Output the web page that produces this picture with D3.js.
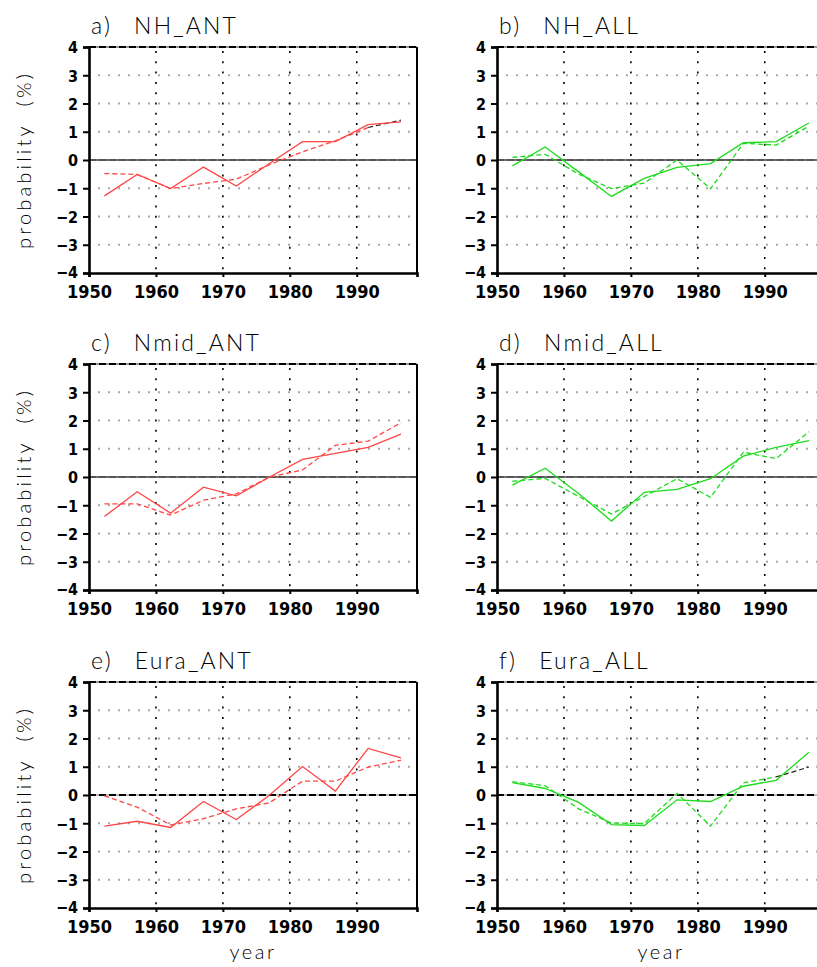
<!DOCTYPE html>
<html>
<head>
<meta charset="utf-8">
<script src="https://cdn.jsdelivr.net/npm/d3@7"></script>
<style>
  html, body { margin: 0; padding: 0; background: #fff; }
  svg { display: block; }
  .title, .axlabel { font-family: Lato, "Open Sans", "DejaVu Sans", sans-serif; font-weight: 300; fill: #000; }
  .tick-label { font-family: "DejaVu Sans Condensed", "Liberation Sans Narrow", "Liberation Sans", sans-serif; font-weight: bold; fill: #000; }
</style>
</head>
<body>
<svg id="chart" width="817" height="967"></svg>
<script>
// Five-year mean points (x = period centre)
const years = [1952.3, 1957.2, 1962.2, 1967.1, 1972.0, 1976.9, 1981.9, 1986.8, 1991.7, 1996.6];

// Probability anomalies (%) — solid and dashed series per region/forcing
const nhAntSolid    = [-1.27, -0.51, -1.01, -0.25, -0.92, -0.13, 0.65, 0.65, 1.25, 1.35];
const nhAntDashed   = [-0.48, -0.51, -1.01, -0.83, -0.68, -0.17, 0.29, 0.68, 1.15, 1.41];
const nhAllSolid    = [-0.21, 0.46, -0.42, -1.29, -0.65, -0.26, -0.13, 0.61, 0.65, 1.31];
const nhAllDashed   = [0.09, 0.20, -0.50, -1.01, -0.82, 0.00, -1.02, 0.59, 0.53, 1.20];
const nmidAntSolid  = [-1.40, -0.52, -1.28, -0.36, -0.67, -0.01, 0.62, 0.84, 1.05, 1.52];
const nmidAntDashed = [-0.95, -0.95, -1.35, -0.82, -0.60, -0.01, 0.25, 1.12, 1.27, 1.92];
const nmidAllSolid  = [-0.29, 0.31, -0.58, -1.56, -0.54, -0.44, -0.06, 0.74, 1.05, 1.29];
const nmidAllDashed = [-0.15, -0.05, -0.69, -1.31, -0.69, -0.06, -0.72, 0.88, 0.65, 1.60];
const euraAntSolid  = [-1.10, -0.93, -1.15, -0.23, -0.87, -0.02, 1.01, 0.14, 1.65, 1.31];
const euraAntDashed = [-0.03, -0.43, -1.06, -0.84, -0.49, -0.28, 0.49, 0.49, 0.99, 1.23];
const euraAllSolid  = [0.44, 0.23, -0.26, -1.05, -1.08, -0.17, -0.23, 0.31, 0.52, 1.51];
const euraAllDashed = [0.47, 0.33, -0.49, -0.99, -1.01, 0.06, -1.10, 0.43, 0.64, 0.99];

const panelLetters = ["a)", "b)", "c)", "d)", "e)", "f)"];
const panelNames = ["NH_ANT", "NH_ALL", "Nmid_ANT", "Nmid_ALL", "Eura_ANT", "Eura_ALL"];
const xTicks = [1950, 1960, 1970, 1980, 1990];
const yTicks = [-4, -3, -2, -1, 0, 1, 2, 3, 4];
const yAxisTitle = "probability (%)";
const xAxisTitle = "year";

// panel -> series, colour; last dashed segment drawn black in a) and f)
const panels = [
  { solid: nhAntSolid,   dashed: nhAntDashed,   color: "#ff4545", blackTail: true },
  { solid: nhAllSolid,   dashed: nhAllDashed,   color: "#1ddc1d", blackTail: false },
  { solid: nmidAntSolid, dashed: nmidAntDashed, color: "#ff4545", blackTail: false },
  { solid: nmidAllSolid, dashed: nmidAllDashed, color: "#1ddc1d", blackTail: false },
  { solid: euraAntSolid, dashed: euraAntDashed, color: "#ff4545", blackTail: false },
  { solid: euraAllSolid, dashed: euraAllDashed, color: "#1ddc1d", blackTail: true }
];

const svg = d3.select("#chart");
const colLeft = [89, 497];
const rowTop = [47, 364, 682];
const W = 328, H = 226;

panels.forEach((p, i) => {
  const col = i % 2, row = Math.floor(i / 2);
  const x0 = colLeft[col], y0 = rowTop[row];
  const x = d3.scaleLinear().domain([1950, 1999]).range([x0, x0 + W]);
  const y = d3.scaleLinear().domain([-4, 4]).range([y0 + H, y0]);
  const g = svg.append("g");

  // horizontal dotted grid (grey)
  g.selectAll(".hgrid").data(yTicks.filter(v => v !== 0 && Math.abs(v) !== 4)).enter()
    .append("line")
    .attr("x1", x0 + 9).attr("x2", x0 + W)
    .attr("y1", d => y(d)).attr("y2", d => y(d))
    .attr("stroke", "#a8a8a8").attr("stroke-width", 2)
    .attr("stroke-dasharray", "2,8");

  // vertical dotted grid (black)
  g.selectAll(".vgrid").data(xTicks.slice(1)).enter()
    .append("line")
    .attr("x1", d => x(d)).attr("x2", d => x(d))
    .attr("y1", y0 + 4).attr("y2", y0 + H)
    .attr("stroke", "#000").attr("stroke-width", 1.6)
    .attr("stroke-dasharray", "2,8.3");

  // zero line
  if (row < 2) {
    g.append("line").attr("x1", x0).attr("x2", x0 + W).attr("y1", y(0)).attr("y2", y(0))
      .attr("stroke", "#6e6e6e").attr("stroke-width", 2);
    g.append("line").attr("x1", x0).attr("x2", x0 + W).attr("y1", y(0)).attr("y2", y(0))
      .attr("stroke", "#555").attr("stroke-width", 2).attr("stroke-dasharray", "7,3");
  } else {
    g.append("line").attr("x1", x0).attr("x2", x0 + W).attr("y1", y(0)).attr("y2", y(0))
      .attr("stroke", "#bdbdbd").attr("stroke-width", 2);
    g.append("line").attr("x1", x0).attr("x2", x0 + W).attr("y1", y(0)).attr("y2", y(0))
      .attr("stroke", "#000").attr("stroke-width", 2).attr("stroke-dasharray", "7,3");
  }

  const line = d3.line().x((d, k) => x(years[k])).y(d => y(d));

  // dashed series
  const dashedPts = p.blackTail ? p.dashed.slice(0, -1) : p.dashed;
  g.append("path").datum(dashedPts)
    .attr("d", line).attr("fill", "none")
    .attr("stroke", p.color).attr("stroke-width", 1.3)
    .attr("stroke-dasharray", "5,3");
  if (p.blackTail) {
    const n = p.dashed.length;
    g.append("line")
      .attr("x1", x(years[n - 2])).attr("y1", y(p.dashed[n - 2]))
      .attr("x2", x(years[n - 1])).attr("y2", y(p.dashed[n - 1]))
      .attr("stroke", "#222").attr("stroke-width", 1.2)
      .attr("stroke-dasharray", "5,3");
  }

  // solid series
  g.append("path").datum(p.solid)
    .attr("d", line).attr("fill", "none")
    .attr("stroke", p.color).attr("stroke-width", 1.3);

  // frame: top dashed, left/bottom/right solid
  g.append("line").attr("x1", x0).attr("x2", x0 + W).attr("y1", y0).attr("y2", y0)
    .attr("stroke", "#9a9a9a").attr("stroke-width", 2);
  g.append("line").attr("x1", x0).attr("x2", x0 + W).attr("y1", y0).attr("y2", y0)
    .attr("stroke", "#000").attr("stroke-width", 2).attr("stroke-dasharray", "7,3");
  g.append("line").attr("x1", x0 + W).attr("x2", x0 + W).attr("y1", y0).attr("y2", y0 + H)
    .attr("stroke", "#000").attr("stroke-width", 2);

  const yAxis = d3.axisLeft(y).tickValues(yTicks).tickSize(6).tickPadding(5)
    .tickFormat(d => d < 0 ? "\u2212" + Math.abs(d) : String(d));
  const ya = g.append("g").attr("transform", `translate(${x0},0)`).call(yAxis);
  ya.select(".domain").attr("stroke", "#000").attr("stroke-width", 2.6);
  ya.selectAll(".tick line").attr("stroke", "#000").attr("stroke-width", 2);
  ya.selectAll(".tick text").attr("class", "tick-label").style("font-size", "16px")
    .attr("dy", d => d === -4 ? "0.25em" : "0.36em");

  const xAxis = d3.axisBottom(x).tickValues(xTicks).tickSize(4).tickPadding(8)
    .tickFormat(d3.format("d"));
  const xa = g.append("g").attr("transform", `translate(0,${y0 + H})`).call(xAxis);
  xa.select(".domain").attr("stroke", "#000").attr("stroke-width", 2.6);
  xa.selectAll(".tick line").attr("stroke", "#000").attr("stroke-width", 2);
  xa.selectAll(".tick text").attr("class", "tick-label").style("font-size", "18px");

  // panel title: letter, gap, region name
  const t = g.append("text").attr("class", "title")
    .attr("x", x0 + 2).attr("y", y0 - 13)
    .style("font-size", "23px").style("letter-spacing", "2.2px");
  t.append("tspan").text(panelLetters[i]);
  t.append("tspan").attr("dx", 22).text(panelNames[i]);

  if (col === 0) {
    g.append("text").attr("class", "axlabel")
      .attr("transform", `translate(31,${y(0)}) rotate(-90)`)
      .attr("text-anchor", "middle")
      .style("font-size", "20px").style("letter-spacing", "3.2px")
      .text(yAxisTitle.replace(" ", "\u00a0\u00a0"));
  }
  if (row === 2) {
    g.append("text").attr("class", "axlabel")
      .attr("x", x0 + W / 2).attr("y", y0 + H + 51)
      .attr("text-anchor", "middle")
      .style("font-size", "20px").style("letter-spacing", "2.5px")
      .text(xAxisTitle);
  }
});
</script>
</body>
</html>
